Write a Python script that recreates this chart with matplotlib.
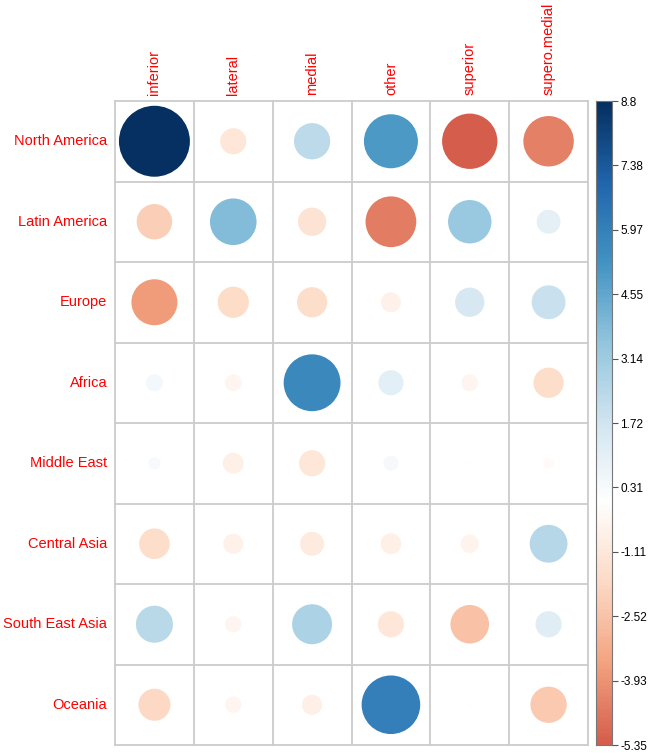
import numpy as np
import matplotlib
matplotlib.use("Agg")
import matplotlib.pyplot as plt
from matplotlib.colors import LinearSegmentedColormap, Normalize

rows = ["North America", "Latin America", "Europe", "Africa", "Middle East",
        "Central Asia", "South East Asia", "Oceania"]
cols = ["inferior", "lateral", "medial", "other", "superior", "supero.medial"]

values = np.array([
    [8.80, -1.20, 2.30, 5.10, -5.35, -4.45],
    [-2.20, 3.80, -1.40, -4.50, 3.30, 1.00],
    [-3.70, -1.70, -1.60, -0.70, 1.50, 2.00],
    [0.50, -0.50, 5.65, 1.10, -0.50, -1.60],
    [0.27, -0.76, -1.20, 0.40, -0.03, -0.20],
    [-1.64, -0.70, -1.00, -0.76, -0.58, 2.50],
    [2.40, -0.47, 2.80, -1.20, -2.60, 1.20],
    [-1.80, -0.47, -0.71, 6.00, -0.05, -2.30],
])

cb_ticks = [8.8, 7.38, 5.97, 4.55, 3.14, 1.72, 0.31, -1.11, -2.52, -3.93, -5.35]
cb_min, cb_max = -5.35, 8.8

palette = ["#67001F", "#B2182B", "#D6604D", "#F4A582", "#FDDBC7", "#FFFFFF",
           "#D1E5F0", "#92C5DE", "#4393C3", "#2166AC", "#053061"]
cmap = LinearSegmentedColormap.from_list("rdbu", palette, N=200)
vmax = np.abs(values).max()
norm = Normalize(-vmax, vmax)

W, H = 648, 754
fig = plt.figure(figsize=(W / 100, H / 100), dpi=100)
plt.rcParams['font.family'] = ['Liberation Sans', 'DejaVu Sans']

gl, gr, gt, gb = 115, 588, 101, 745
ax = fig.add_axes([gl / W, 1 - gb / H, (gr - gl) / W, (gb - gt) / H])
nr, nc = values.shape
ax.set_xlim(0, nc)
ax.set_ylim(nr, 0)
for s in ax.spines.values():
    s.set_visible(False)
ax.set_xticks([])
ax.set_yticks([])
grid_col = "#CCCCCC"
for i in range(nc + 1):
    ax.plot([i, i], [0, nr], color=grid_col, lw=1.3, zorder=1, clip_on=False)
for j in range(nr + 1):
    ax.plot([0, nc], [j, j], color=grid_col, lw=1.3, zorder=1, clip_on=False)

cell_px = (gr - gl) / nc
xs, ys, ss, cs = [], [], [], []
for r in range(nr):
    for c in range(nc):
        v = values[r, c]
        d_px = 0.9 * cell_px * np.sqrt(abs(v) / vmax)
        d_pt = d_px * 0.72
        xs.append(c + 0.5)
        ys.append(r + 0.5)
        ss.append(d_pt ** 2)
        cs.append(cmap(norm(v)))
ax.scatter(xs, ys, s=ss, c=cs, linewidths=0, zorder=2)

lab_col = "red"
for r, name in enumerate(rows):
    ax.text(-0.1, r + 0.5, name, ha="right", va="center", color=lab_col,
            fontsize=10.5)
for c, name in enumerate(cols):
    ax.text(c + 0.5, -0.08, name, ha="center", va="bottom", rotation=90,
            color=lab_col, fontsize=10.5)

# colorbar
cbl, cbr = 596, 612
cax = fig.add_axes([cbl / W, 1 - gb / H, (cbr - cbl) / W, (gb - gt) / H])
grad = np.linspace(cb_min, cb_max, 400).reshape(-1, 1)
cax.imshow(grad, cmap=cmap, norm=norm, aspect="auto", origin="lower",
           extent=[0, 1, cb_min, cb_max])
cax.set_xlim(0, 1)
cax.set_ylim(cb_min, cb_max)
cax.set_xticks([])
cax.yaxis.tick_right()
tick_pos = np.linspace(cb_max, cb_min, len(cb_ticks))
cax.set_yticks(tick_pos)
cax.set_yticklabels([f"{t:g}" for t in cb_ticks], fontsize=8.5)
cax.tick_params(axis="y", length=4, width=0.8, color="#555555", pad=2)
for s in cax.spines.values():
    s.set_color("#777777")
    s.set_linewidth(0.8)

fig.savefig("out.png", dpi=100)
